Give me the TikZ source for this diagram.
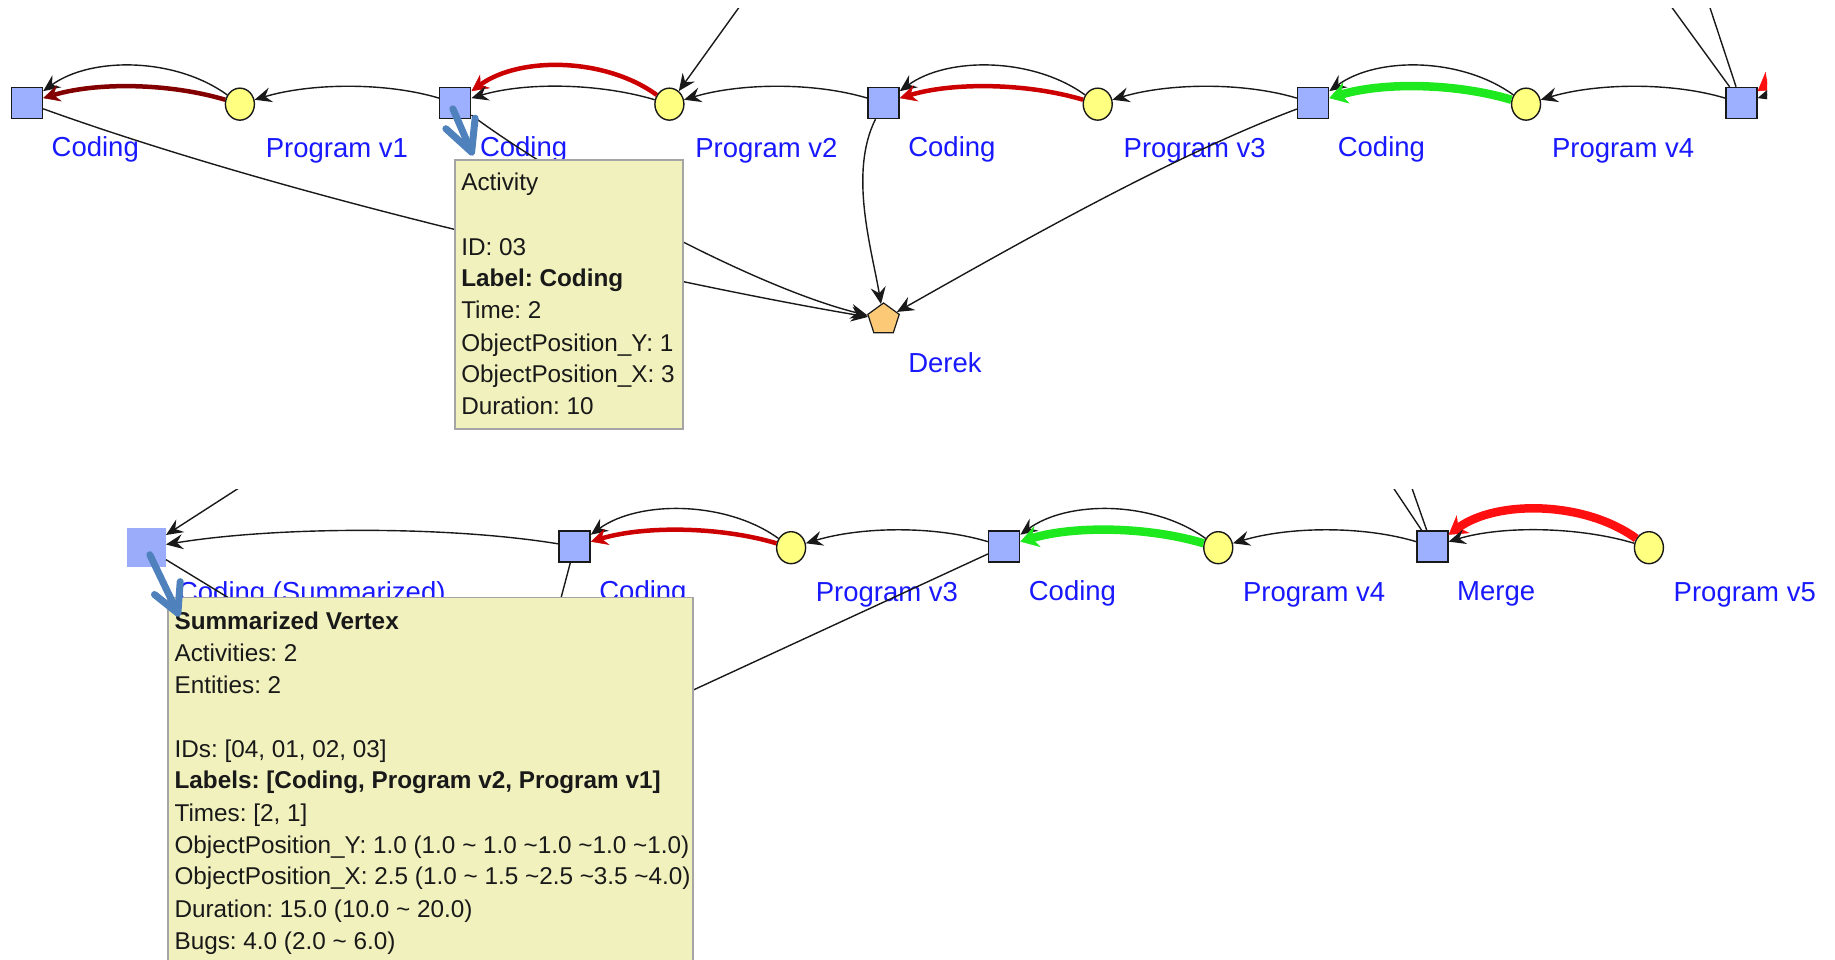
\documentclass[tikz,border=0pt]{standalone}
\usepackage{fontspec}
\setmainfont{Liberation Sans}
\frenchspacing
\usetikzlibrary{arrows.meta,shapes.geometric}
\definecolor{sqblue}{RGB}{157,176,255}
\definecolor{sumblue}{RGB}{155,172,250}
\definecolor{entyellow}{RGB}{255,255,128}
\definecolor{agentorange}{RGB}{252,202,118}
\definecolor{lblblue}{RGB}{25,25,255}
\definecolor{tipfill}{RGB}{241,241,190}
\definecolor{tipborder}{RGB}{165,165,165}
\definecolor{cursorblue}{RGB}{79,129,189}
\definecolor{redA}{RGB}{204,0,0}
\definecolor{redB}{RGB}{255,15,15}
\definecolor{darkred}{RGB}{130,0,0}
\definecolor{greenA}{RGB}{30,232,30}
\definecolor{edgegray}{RGB}{25,25,25}
\tikzset{
 sq/.style={rectangle, draw=edgegray, line width=1.4pt, fill=sqblue, minimum size=31pt, inner sep=0pt},
 sumsq/.style={rectangle, fill=sumblue, minimum size=39pt, inner sep=0pt},
 ent/.style={ellipse, draw=edgegray, line width=1.4pt, fill=entyellow, minimum width=29pt, minimum height=32pt, inner sep=0pt},
 agent/.style={regular polygon, regular polygon sides=5, draw=edgegray, line width=1.2pt, fill=agentorange, minimum size=33pt, inner sep=0pt},
 lbl/.style={text=lblblue, font=\fontsize{27.5}{30}\selectfont, anchor=base west, inner sep=0pt},
 rel/.style={draw=edgegray, line width=1.4pt, -{Stealth[length=17pt,width=15pt,inset=6pt]}},
 plain/.style={draw=edgegray, line width=1.4pt},
 hotthin/.style={line width=4.5pt, -{Stealth[length=17pt,width=17pt,inset=6pt,line width=0.5pt]}},
 hotthick/.style={line width=8.5pt, -{Stealth[length=18pt,width=22pt,inset=6pt,line width=0.5pt]}},
 tipbox/.style={rectangle, draw=tipborder, line width=1.5pt, fill=tipfill, anchor=north west, inner sep=0pt},
 tiptext/.style={text=black!90, font=\fontsize{24.3}{30}\selectfont, anchor=base west, inner sep=0pt},
 cursor/.style={draw=cursorblue, line width=7pt, line cap=round, line join=round},
}
\begin{document}
\begin{tikzpicture}[x=1.1703pt,y=-1.1703pt]
\useasboundingbox (0,0) rectangle (1568,820);
% ---------------- top screenshot ----------------
\begin{scope}
\clip (0,7) rectangle (1510,400);
\node[sq] (s1) at (23,88) {};
\node[ent] (c1) at (205,89) {};
\node[sq] (s2) at (389,88) {};
\node[ent] (c2) at (572,89) {};
\node[sq] (s3) at (755,88) {};
\node[ent] (c3) at (938,89) {};
\node[sq] (s4) at (1122,88) {};
\node[ent] (c4) at (1304,89) {};
\node[sq] (s5) at (1488,88) {};
\coordinate (c5) at (1672,89);
\node[agent] (derek) at (755,273) {};
\coordinate (inA) at (636,0);
\coordinate (outA) at (1424,0);
\coordinate (outB) at (1459,0);
% labels
\node[lbl] (ls1) at (44,134) {Coding};
\node[lbl] (lc1) at (227,135) {Program v1};
\node[lbl] (ls2) at (410,134) {Coding};
\node[lbl] (lc2) at (594,135) {Program v2};
\node[lbl] (ls3) at (776,134) {Coding};
\node[lbl] (lc3) at (960,135) {Program v3};
\node[lbl] (ls4) at (1143,134) {Coding};
\node[lbl] (lc4) at (1326,135) {Program v4};
\node[lbl] (lder) at (776,318) {Derek};
% edges
\draw[rel] (c1) .. controls +(-55,-40) and +(55,-40) .. (s1);
\draw[hotthin, darkred] (c1) .. controls +(-60,-18) and +(60,-18) .. (s1);
\draw[rel] (s2) .. controls +(-60,-18) and +(60,-18) .. (c1);
\draw[hotthin, redA] (c2) .. controls +(-55,-40) and +(55,-40) .. (s2);
\draw[rel] (c2) .. controls +(-60,-18) and +(60,-18) .. (s2);
\draw[rel] (s3) .. controls +(-60,-18) and +(60,-18) .. (c2);
\draw[rel] (inA) -- (c2);
\draw[rel] (c3) .. controls +(-55,-40) and +(55,-40) .. (s3);
\draw[hotthin, redA] (c3) .. controls +(-60,-18) and +(60,-18) .. (s3);
\draw[rel] (s4) .. controls +(-60,-18) and +(60,-18) .. (c3);
\draw[rel] (c4) .. controls +(-55,-40) and +(55,-40) .. (s4);
\draw[hotthick, greenA] (c4) .. controls +(-60,-18) and +(60,-18) .. (s4);
\draw[rel] (s5) .. controls +(-60,-18) and +(60,-18) .. (c4);
\draw[plain] (s5) -- (outA);
\draw[plain] (s5) -- (outB);
\draw[hotthick, redB] (c5) .. controls +(-55,-40) and +(55,-40) .. (s5);
\draw[rel] (c5) .. controls +(-60,-18) and +(60,-18) .. (s5);
\draw[rel] (s1) .. controls +(250,90) and +(-150,-25) .. (derek);
\draw[rel] (s2) .. controls +(80,60) and +(-120,-30) .. (derek);
\draw[rel] (s3) .. controls +(-30,60) and +(-10,-60) .. (derek);
\draw[rel] (s4) .. controls +(-120,45) and +(115,-65) .. (derek);
% tooltip
\node[tipbox, minimum width=228pt, minimum height=269pt] (tip1) at (388,136) {};
\node[tiptext] (t1a) at (394,163) {Activity};
\node[tiptext] (t1b) at (394,218) {ID: 03};
\node[tiptext] (t1c) at (394,245) {\textbf{Label: Coding}};
\node[tiptext] (t1d) at (394,272) {Time: 2};
\node[tiptext] (t1e) at (394,300) {ObjectPosition\_Y: 1};
\node[tiptext] (t1f) at (394,327) {ObjectPosition\_X: 3};
\node[tiptext] (t1g) at (394,354) {Duration: 10};
\end{scope}
% ---------------- bottom screenshot ----------------
\begin{scope}
\clip (0,418) rectangle (1568,830);
\node[sumsq] (sum) at (125,468) {};
\node[sq] (b1) at (491,467) {};
\node[ent] (e1) at (676,468) {};
\node[sq] (b2) at (858,467) {};
\node[ent] (e2) at (1041,468) {};
\node[sq] (b3) at (1224,467) {};
\node[ent] (e3) at (1409,468) {};
\coordinate (derekB) at (440,660);
\coordinate (inB) at (215,410);
\coordinate (outC) at (1186,410);
\coordinate (outD) at (1204,410);
% labels
\node[lbl] (lsum) at (152,514) {Coding (Summarized)};
\node[lbl] (lb1) at (512,513) {Coding};
\node[lbl] (le1) at (697,514) {Program v3};
\node[lbl] (lb2) at (879,513) {Coding};
\node[lbl] (le2) at (1062,514) {Program v4};
\node[lbl] (lb3) at (1245,513) {Merge};
\node[lbl] (le3) at (1430,514) {Program v5};
% edges
\draw[rel] (b1) .. controls +(-110,-18) and +(110,-18) .. (sum);
\draw[rel] (inB) -- (sum);
\draw[rel] (e1) .. controls +(-55,-40) and +(55,-40) .. (b1);
\draw[hotthin, redA] (e1) .. controls +(-60,-18) and +(60,-18) .. (b1);
\draw[rel] (b2) .. controls +(-60,-18) and +(60,-18) .. (e1);
\draw[rel] (e2) .. controls +(-55,-40) and +(55,-40) .. (b2);
\draw[hotthick, greenA] (e2) .. controls +(-60,-18) and +(60,-18) .. (b2);
\draw[rel] (b3) .. controls +(-60,-18) and +(60,-18) .. (e2);
\draw[hotthick, redB] (e3) .. controls +(-55,-40) and +(55,-40) .. (b3);
\draw[rel] (e3) .. controls +(-60,-18) and +(60,-18) .. (b3);
\draw[plain] (b3) -- (outC);
\draw[plain] (b3) -- (outD);
\draw[rel] (sum) -- (derekB);
\draw[rel] (b1) -- (derekB);
\draw[rel] (b2) -- (derekB);
% tooltip
\node[tipbox, minimum width=525pt, minimum height=380pt] (tip2) at (143,510) {};
\node[tiptext] (t2a) at (149,538) {\textbf{Summarized Vertex}};
\node[tiptext] (t2b) at (149,565) {Activities: 2};
\node[tiptext] (t2c) at (149,593) {Entities: 2};
\node[tiptext] (t2d) at (149,647) {IDs: [04, 01, 02, 03]};
\node[tiptext] (t2e) at (149,674) {\textbf{Labels: [Coding, Program v2, Program v1]}};
\node[tiptext] (t2f) at (149,702) {Times: [2, 1]};
\node[tiptext] (t2g) at (149,729) {ObjectPosition\_Y: 1.0 (1.0 \textasciitilde{} 1.0 \textasciitilde1.0 \textasciitilde1.0 \textasciitilde1.0)};
\node[tiptext] (t2h) at (149,756) {ObjectPosition\_X: 2.5 (1.0 \textasciitilde{} 1.5 \textasciitilde2.5 \textasciitilde3.5 \textasciitilde4.0)};
\node[tiptext] (t2i) at (149,784) {Duration: 15.0 (10.0 \textasciitilde{} 20.0)};
\node[tiptext] (t2j) at (149,811) {Bugs: 4.0 (2.0 \textasciitilde{} 6.0)};
\end{scope}
% ---------------- cursors ----------------
\draw[cursor] (387,93) -- (403,130);
\draw[cursor] (381,110) -- (403,130) -- (406,101);
\draw[cursor] (128,474) -- (152,524);
\draw[cursor] (132,508) -- (152,524) -- (154,497);
\end{tikzpicture}
\end{document}
